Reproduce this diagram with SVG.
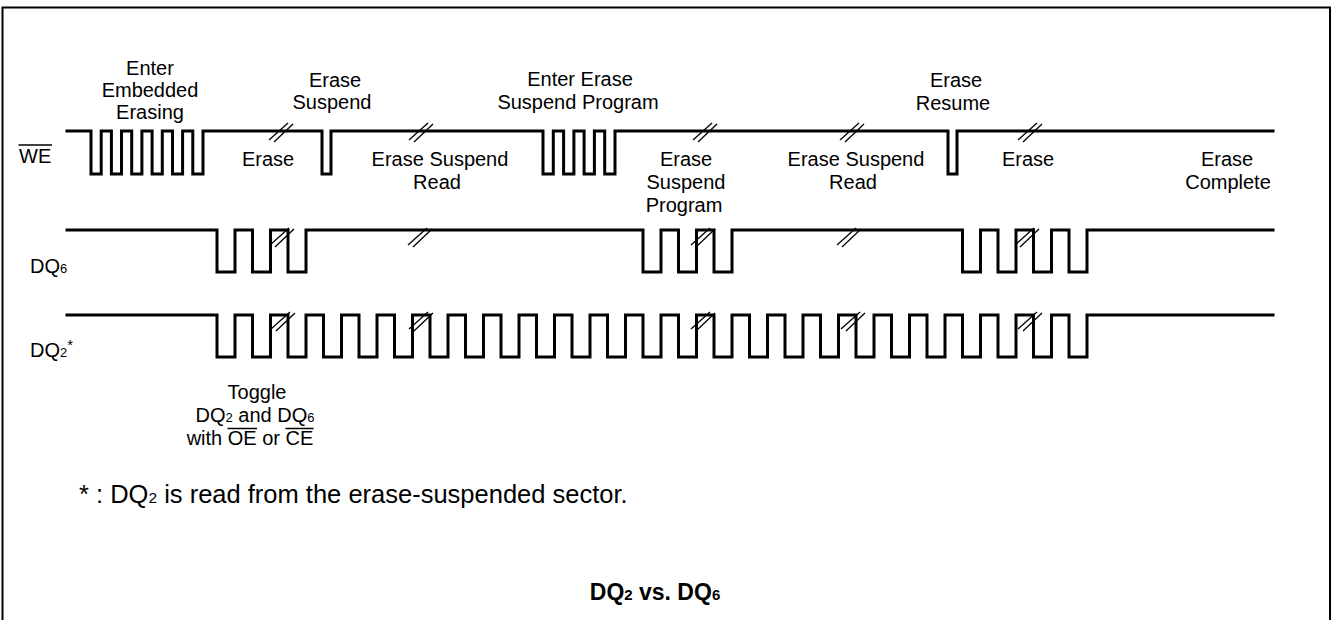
<svg xmlns="http://www.w3.org/2000/svg" width="1338" height="620" viewBox="0 0 1338 620">
<style>
.sig{fill:none;stroke:#000;stroke-width:3;stroke-linejoin:miter;stroke-linecap:square}
.brk line{stroke:#000;stroke-width:1.3}
.frame{fill:none;stroke:#000;stroke-width:2}
.ovl{stroke:#000;stroke-width:1.5}
text{font-family:"Liberation Sans",Arial,sans-serif;fill:#000}
.lbl{font-size:20px;text-anchor:middle}
.nm{font-size:20px}
.sub{font-size:13px}
</style>
<defs>
<g id="brk" class="brk"><line x1="-12" y1="8" x2="7" y2="-9"/><line x1="-7" y1="10" x2="12" y2="-8"/></g>
</defs>
<rect width="1338" height="620" fill="#fff"/>
<path class="frame" d="M2.5,620 V7.5 H1330 V620"/>
<g id="connectors">
<g id="WE-wave"><path class="sig" d="M67,131 H91 V174 H101.2 V131 H111.4 V174 H121.5 V131 H131.7 V174 H141.9 V131 H152.1 V174 H162.3 V131 H172.5 V174 H182.6 V131 H192.8 V174 H203 V131 H322 V174 H331 V131 H543 V174 H553.3 V131 H563.6 V174 H573.9 V131 H584.1 V174 H594.4 V131 H604.7 V174 H615 V131 H948 V174 H957 V131 H1273"/></g>
<g id="DQ6-wave"><path class="sig" d="M67,230 H217 V272 H235 V230 H252.5 V272 H270.5 V230 H288 V272 H306 V230 H643 V272 H661 V230 H678.5 V272 H696.5 V230 H714 V272 H732 V230 H962.5 V272 H980.5 V230 H998 V272 H1016 V230 H1033.5 V272 H1051.5 V230 H1069 V272 H1087 V230 H1273"/></g>
<g id="DQ2-wave"><path class="sig" d="M67,315 H217 V357 H235 V315 H252.5 V357 H270.5 V315 H288 V357 H306 V315 H323.5 V357 H341.5 V315 H359 V357 H377 V315 H394.5 V357 H412.5 V315 H430 V357 H448 V315 H465.5 V357 H483.5 V315 H501 V357 H519 V315 H536.5 V357 H554.5 V315 H572 V357 H590 V315 H607.5 V357 H625.5 V315 H643 V357 H661 V315 H678.5 V357 H696.5 V315 H714 V357 H732 V315 H749.5 V357 H767.5 V315 H785 V357 H803 V315 H820.5 V357 H838.5 V315 H856 V357 H874 V315 H891.5 V357 H909.5 V315 H927 V357 H945 V315 H962.5 V357 H980.5 V315 H998 V357 H1016 V315 H1033.5 V357 H1051.5 V315 H1069 V357 H1087 V315 H1273"/></g>
<g id="breaks">
<use href="#brk" x="281" y="132"/>
<use href="#brk" x="421" y="132"/>
<use href="#brk" x="705" y="132"/>
<use href="#brk" x="852" y="132"/>
<use href="#brk" x="1030" y="132"/>
<use href="#brk" x="282" y="237"/>
<use href="#brk" x="420" y="237"/>
<use href="#brk" x="703" y="237"/>
<use href="#brk" x="849" y="237"/>
<use href="#brk" x="1027" y="237"/>
<use href="#brk" x="283" y="321"/>
<use href="#brk" x="421" y="321"/>
<use href="#brk" x="703" y="321"/>
<use href="#brk" x="853" y="321"/>
<use href="#brk" x="1030" y="321"/>
</g>
</g>
<g id="signal-names">
<g id="WE"><text class="nm" x="19" y="163">WE</text><line class="ovl" x1="18.5" y1="145" x2="52" y2="145"/></g>
<text id="DQ6" class="nm" x="30" y="273">DQ<tspan class="sub">6</tspan></text>
<text id="DQ2" class="nm" x="30" y="357">DQ<tspan class="sub">2</tspan><tspan style="font-size:15px" dy="-7">*</tspan></text>
</g>
<g id="n-enter-erasing"><text class="lbl" x="150" y="75">Enter</text><text class="lbl" x="150" y="97">Embedded</text><text class="lbl" x="150" y="119">Erasing</text></g>
<g id="n-erase-suspend"><text class="lbl" x="335" y="87">Erase</text><text class="lbl" x="332" y="109">Suspend</text></g>
<g id="n-erase1"><text class="lbl" x="268" y="166">Erase</text></g>
<g id="n-esr1"><text class="lbl" x="440" y="166">Erase Suspend</text><text class="lbl" x="437" y="189">Read</text></g>
<g id="n-enter-esp"><text class="lbl" x="580" y="86">Enter Erase</text><text class="lbl" x="578" y="109">Suspend Program</text></g>
<g id="n-esp"><text class="lbl" x="686" y="166">Erase</text><text class="lbl" x="686" y="189">Suspend</text><text class="lbl" x="684" y="212">Program</text></g>
<g id="n-esr2"><text class="lbl" x="856" y="166">Erase Suspend</text><text class="lbl" x="853" y="189">Read</text></g>
<g id="n-resume"><text class="lbl" x="956" y="87">Erase</text><text class="lbl" x="953" y="110">Resume</text></g>
<g id="n-erase2"><text class="lbl" x="1028" y="166">Erase</text></g>
<g id="n-complete"><text class="lbl" x="1227" y="166">Erase</text><text class="lbl" x="1228" y="189">Complete</text></g>
<g id="n-toggle">
<text class="lbl" x="257" y="399">Toggle</text>
<text class="lbl" x="255" y="422">DQ<tspan class="sub">2</tspan> and DQ<tspan class="sub">6</tspan></text>
<text class="lbl" x="250" y="445">with OE or CE</text>
<line class="ovl" x1="227.5" y1="428.5" x2="257" y2="428.5"/>
<line class="ovl" x1="285.5" y1="428.5" x2="313.5" y2="428.5"/>
</g>
<g id="n-note"><text x="79" y="503" style="font-size:25.5px">* : DQ<tspan style="font-size:15.5px">2</tspan> is read from the erase-suspended sector.</text></g>
<g id="n-title"><text x="655" y="600" style="font-size:23px;font-weight:bold;text-anchor:middle">DQ<tspan style="font-size:15px">2</tspan> vs. DQ<tspan style="font-size:15px">6</tspan></text></g>
</svg>
